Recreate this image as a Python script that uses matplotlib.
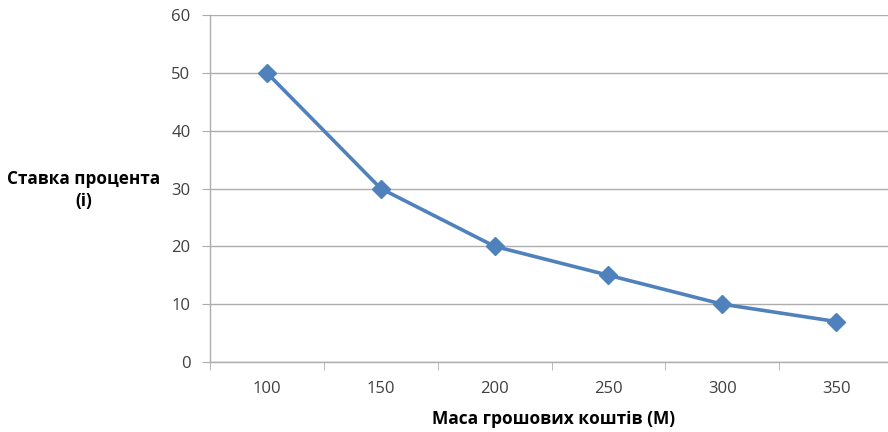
import matplotlib
matplotlib.use("Agg")
import matplotlib.pyplot as plt

categories = ["100", "150", "200", "250", "300", "350"]
values = [50, 30, 20, 15, 10, 7]
y_ticks = [0, 10, 20, 30, 40, 50, 60]

plt.rcParams['font.family'] = ['Open Sans', 'DejaVu Sans']

fig = plt.figure(figsize=(8.88, 4.32), dpi=100)
ax = fig.add_axes([210/888, 70/432, 683/888, 347/432])

x = list(range(len(categories)))
ax.plot(x, values, color="#4F81BD", linewidth=2.6, marker="D", markersize=9,
        markerfacecolor="#4F81BD", markeredgecolor="#4F81BD", zorder=3, clip_on=False)

ax.set_xlim(-0.5, len(categories) - 0.5)
ax.set_ylim(0, 60)
ax.set_yticks(y_ticks)
ax.set_yticklabels([str(v) for v in y_ticks], fontsize=12, color="#404040")
ax.set_xticks(x)
ax.set_xticklabels(categories, fontsize=12, color="#404040")
ax.set_xticks([i - 0.5 for i in range(len(categories) + 1)], minor=True)

ax.grid(axis="y", color="#ADADAD", linewidth=1.0)
ax.set_axisbelow(True)
for s in ["top", "right"]:
    ax.spines[s].set_visible(False)
for s in ["left", "bottom"]:
    ax.spines[s].set_color("#ADADAD")
    ax.spines[s].set_linewidth(1.0)

ax.tick_params(axis="y", which="major", length=6, color="#ADADAD", pad=8)
ax.tick_params(axis="x", which="major", length=0, pad=14)
ax.tick_params(axis="x", which="minor", length=6, color="#ADADAD")

fig.text(84/888, 1 - 190/432, "Ставка процента\n(і)", ha="center", va="center",
         fontsize=12.3, fontweight="bold", color="#000000", linespacing=1.3)
fig.text(554/888, 1 - 419/432, "Маса грошових коштів (М)", ha="center", va="center",
         fontsize=12.5, fontweight="bold", color="#000000")

fig.savefig("out.png", dpi=100)
